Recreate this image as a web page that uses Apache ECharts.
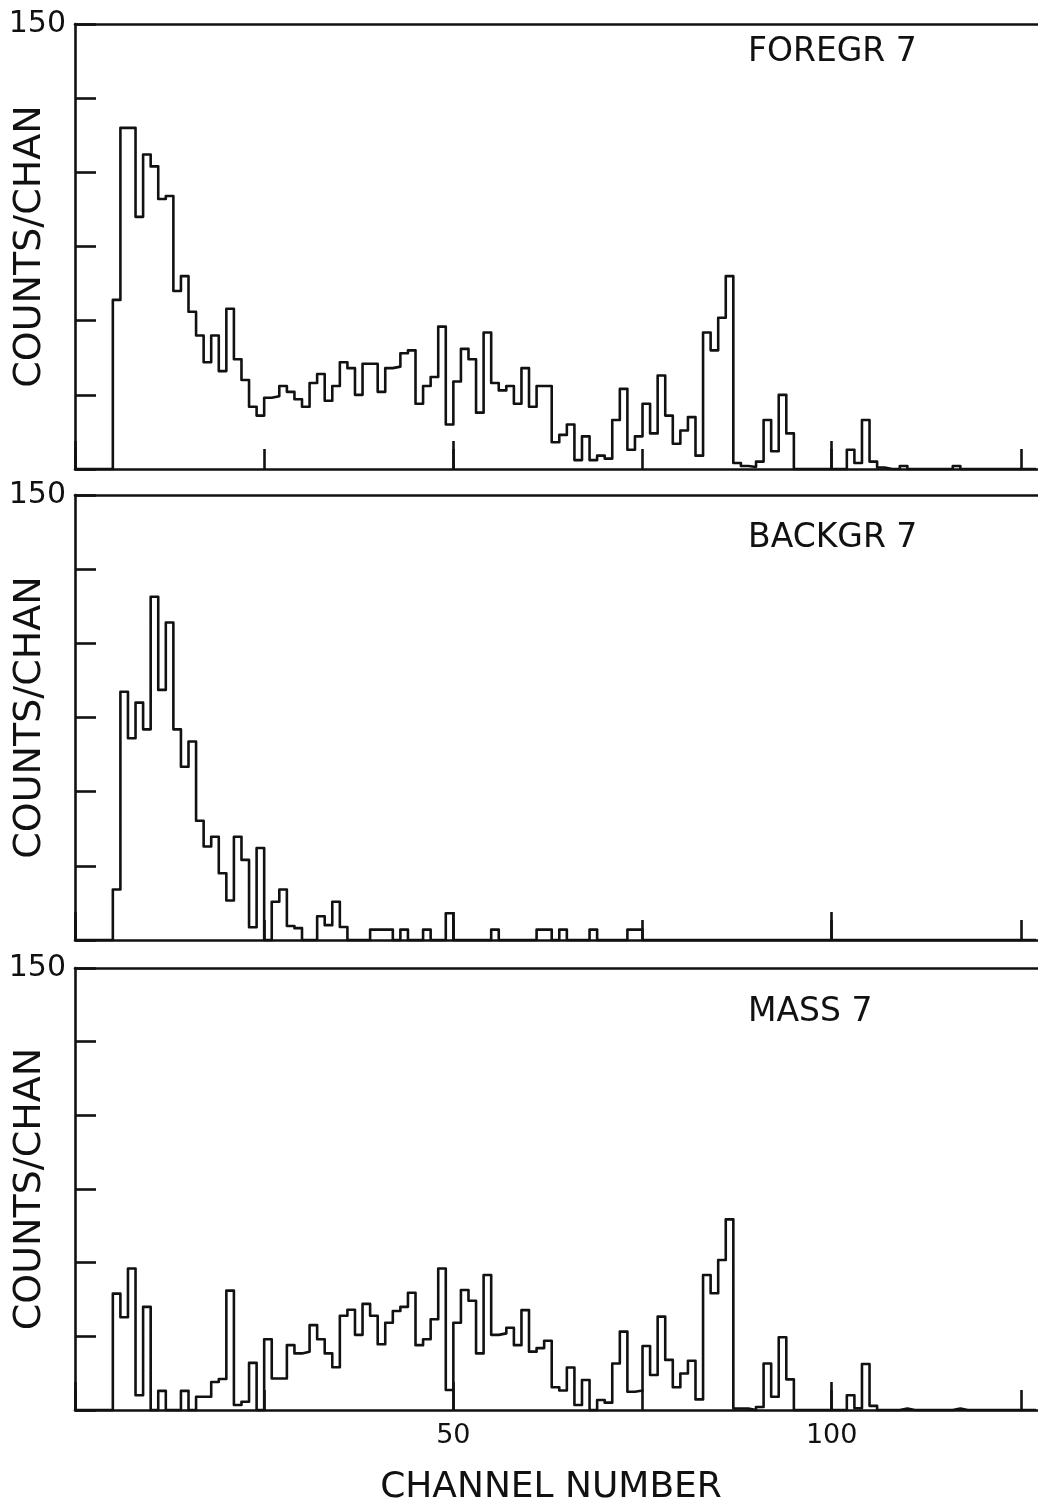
<!DOCTYPE html>
<html>
<head>
<meta charset="utf-8">
<script src="https://cdn.jsdelivr.net/npm/echarts@6.0.0/dist/echarts.min.js"></script>
<style>
html,body{margin:0;padding:0;background:#fff;overflow:hidden}
#chart{width:1038px;height:1508px}
</style>
</head>
<body>
<div id="chart"></div>
<script>
// ---- data (counts per channel, first value = channel FIRST_CHANNEL) ----
const FIRST_CHANNEL = 5;
const LAST_CHANNEL = 127;
const foreground = [
  57,115,115,85,106,102,91,92,60,65,53,45,36,45,33,54,37,30,21,18,
  24,24.5,28,26,23.5,21,29,32,23,28,36,34,25,35.5,35.5,26,34,34.5,39,40,
  22,28,31,48,15,29.5,40.5,37,19,46,29,26.5,28,22,34,21,28,28,9,11.5,
  15,3,11,3,4.5,3.5,16.5,27,6.5,11,22,12,31.5,18,8.5,13,17.5,4.5,46,40,
  51,65,2,1,0.7,2.5,16.5,6,25,12,0,0,0,0,0,0,0,6.5,2,16.5,
  2.5,0.5,0,0,1,0,0,0,0,0,0,1
];
const background = [
  17,83.7,68,80,71,115.7,84.3,107,71,58.4,66.9,40.2,31.5,34.8,22.5,13.3,34.8,27,4.3,31,
  0,12.9,17,4.7,4,0,0,8,5,12.9,4.4,0,0,0,3.5,3.5,3.5,0,3.5,0,
  0,3.5,0,0,9,0,0,0,0,0,3.5,0,0,0,0,0,3.5,3.5,0,3.5,
  0,0,0,3.5,0,0,0,0,3.5,3.5
];
const mass = [
  39.5,31.5,48,5,35,0,6.5,0,0,6.5,0,4.5,4.5,9.5,10.5,40.5,1.7,2.8,16,0,
  24,10.7,10.7,22,19.2,19.8,28.8,24,19.2,14.5,32,34,25.5,36,32,22.3,29.6,33.6,35,39.8,
  22,24,30.8,48,6.8,29.6,40.7,37.1,19.2,45.8,25.5,26,27.9,22,33.9,19.8,21,23.5,7.7,6.6,
  14.4,1.7,10.2,0,3.4,2.5,15.8,26.6,6.2,6.6,21.7,11.9,31.7,17,7.7,12.4,16.7,3.6,45.8,39.6,
  50.9,64.7,0.5,0.5,0,1,15.8,4.5,24.7,10.4,0,0,0,0,0,0,0,5,0.6,15.6,
  1.4,0,0,0,0.5,0,0,0,0,0,0,0.5
];
const panelTitles = ['FOREGR 7', 'BACKGR 7', 'MASS 7'];
const xTickLabels = ['50', '100'];
const yTickLabels = ['150'];
const yAxisName = 'COUNTS/CHAN';
const xAxisName = 'CHANNEL NUMBER';
const Y_MIN = 0, Y_MAX = 150, Y_STEP = 25;
const X_MIN = 0, X_MINOR_STEP = 25, X_MAJOR_STEP = 50;

// ---- layout / style ----
const INK = '#111';
const FONT = 'DejaVu Sans';
const LW = 2.6;
const GRID_LEFT = 75;
const GRID_RIGHT = -12;              // axis runs past the right edge (cropped)
const PX_PER_CHANNEL = 7.567;
const X_MAX = +((1038 - GRID_LEFT - GRID_RIGHT) / PX_PER_CHANNEL).toFixed(3);
const panels = [
  {top: 24,  height: 445, values: foreground, titleTop: 36},
  {top: 495, height: 445, values: background, titleTop: 522},
  {top: 968, height: 442, values: mass,       titleTop: 996}
];

function toSteps(values) {
  const pts = [];
  for (let k = X_MIN; k <= LAST_CHANNEL; k++) {
    const i = k - FIRST_CHANNEL;
    const v = (i >= 0 && i < values.length) ? values[i] : 0;
    pts.push([k, v]);
  }
  return pts;
}

const grid = [], xAxis = [], yAxis = [], series = [], title = [];
panels.forEach((p, g) => {
  const isBottom = g === panels.length - 1;
  grid.push({left: GRID_LEFT, right: GRID_RIGHT, top: p.top, height: p.height,
             containLabel: false, outerBoundsMode: 'none'});
  // minor ticks (25, 75, 125) + bottom line
  xAxis.push({
    gridIndex: g, type: 'value', min: X_MIN, max: X_MAX, interval: X_MINOR_STEP, position: 'bottom',
    axisLine: {show: true, onZero: false, lineStyle: {color: INK, width: LW}},
    axisTick: {show: true, inside: true, length: 20, lineStyle: {color: INK, width: LW}},
    axisLabel: {show: false}, splitLine: {show: false}
  });
  // major ticks (50, 100) with labels on the bottom panel
  xAxis.push({
    gridIndex: g, type: 'value', min: X_MIN, max: X_MAX, interval: X_MAJOR_STEP, position: 'bottom',
    axisLine: {show: false, onZero: false},
    axisTick: {show: true, inside: true, length: 28, lineStyle: {color: INK, width: LW}},
    axisLabel: {
      show: isBottom, margin: 12, color: INK, fontFamily: FONT, fontSize: 27,
      formatter: v => xTickLabels.includes(String(v)) ? String(v) : ''
    },
    splitLine: {show: false}
  });
  // top border
  xAxis.push({
    gridIndex: g, type: 'value', min: X_MIN, max: X_MAX, position: 'top',
    axisLine: {show: true, onZero: false, lineStyle: {color: INK, width: LW}},
    axisTick: {show: false}, axisLabel: {show: false}, splitLine: {show: false}
  });
  yAxis.push({
    gridIndex: g, type: 'value', min: Y_MIN, max: Y_MAX, interval: Y_STEP,
    axisLine: {show: true, onZero: false, lineStyle: {color: INK, width: LW}},
    axisTick: {show: true, inside: true, length: 21, lineStyle: {color: INK, width: LW}},
    axisLabel: {
      show: true, margin: 9, color: INK, fontFamily: FONT, fontSize: 30,
      formatter: v => yTickLabels.includes(String(v)) ? String(v) : ''
    },
    splitLine: {show: false},
    name: yAxisName, nameLocation: 'middle', nameGap: 26, nameMoveOverlap: false,
    nameTextStyle: {color: INK, fontFamily: FONT, fontSize: 38}
  });
  series.push({
    type: 'line', step: 'end', xAxisIndex: g * 3, yAxisIndex: g,
    data: toSteps(p.values), symbol: 'none', clip: false,
    lineStyle: {color: INK, width: LW, join: 'round'}, z: 5
  });
  title.push({
    text: panelTitles[g], left: 748, top: p.titleTop, padding: 0,
    textStyle: {color: INK, fontFamily: FONT, fontSize: 33, fontWeight: 'normal'}
  });
});

const chart = echarts.init(document.getElementById('chart'), null, {renderer: 'canvas'});
chart.setOption({
  backgroundColor: '#fff',
  animation: false,
  title, grid, xAxis, yAxis, series,
  graphic: [{
    type: 'text', x: 551, y: 1488,
    style: {text: xAxisName, fill: INK, fontFamily: FONT, fontSize: 36, align: 'center', verticalAlign: 'middle'}
  }]
});
</script>
</body>
</html>
